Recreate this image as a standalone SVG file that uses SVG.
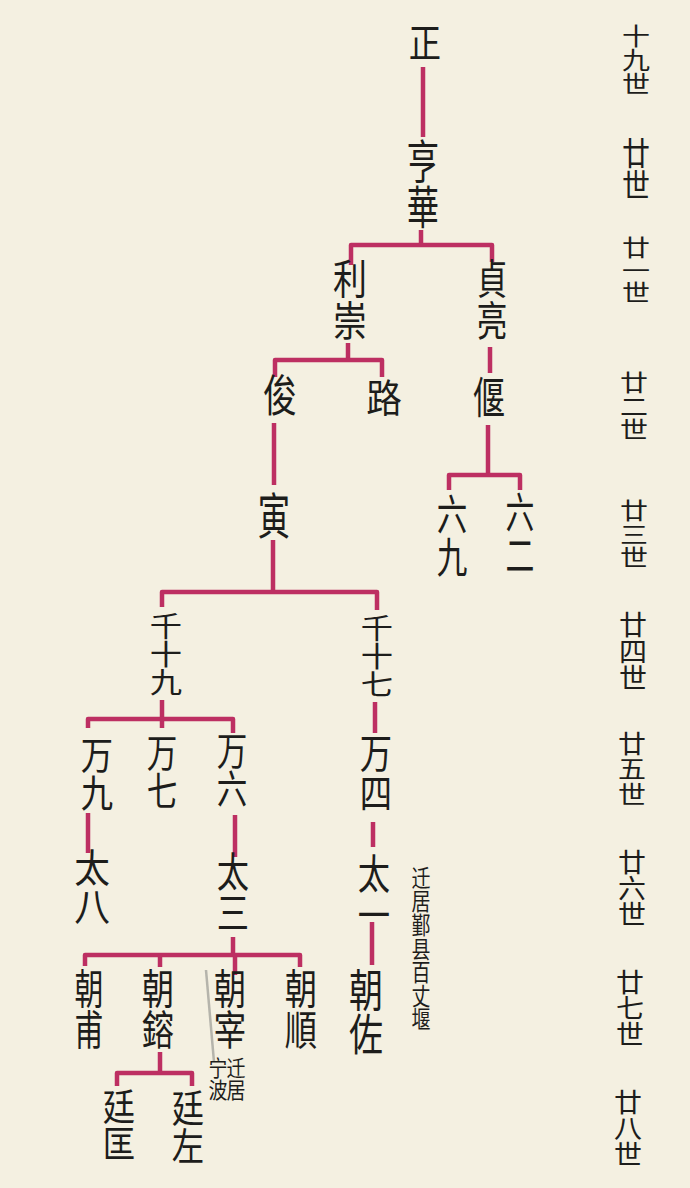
<svg xmlns="http://www.w3.org/2000/svg" width="690" height="1188" viewBox="0 0 690 1188">
<style>
.bg { fill: #f4f0e1; }
.n, .g, .s { font-family: "Noto Sans CJK SC", "Noto Sans CJK TC", sans-serif; writing-mode: vertical-rl; text-anchor: start; fill: #1d1d1b; }
.n { font-size: 34px; }
.g { font-size: 28px; }
.s { font-size: 20px; }
.c { fill: none; stroke: #bd2f62; stroke-width: 4.5; stroke-linejoin: round; stroke-linecap: butt; }
.p { fill: none; stroke: #9a9a94; stroke-width: 2.5; opacity: 0.7; }
</style>
<rect class="bg" x="0" y="0" width="690" height="1188"/>

<g id="connectors">
  <path class="c" d="M423 67 V137"/>
  <path class="c" d="M421 230 V245"/>
  <path class="c" d="M351 265 V245 H492 V262"/>
  <path class="c" d="M348 343 V360"/>
  <path class="c" d="M275 377 V360 H382 V377"/>
  <path class="c" d="M274 423 V485"/>
  <path class="c" d="M273 540 V592"/>
  <path class="c" d="M162 607 V592 H377 V610"/>
  <path class="c" d="M490 347 V373"/>
  <path class="c" d="M488 425 V475"/>
  <path class="c" d="M449 490 V475 H520 V490"/>
  <path class="c" d="M162 700 V728"/>
  <path class="c" d="M88 728 V719 H233 V733"/>
  <path class="c" d="M375 702 V733"/>
  <path class="c" d="M88 813 V853"/>
  <path class="c" d="M235 815 V857"/>
  <path class="c" d="M373 822 V847"/>
  <path class="c" d="M233 937 V955"/>
  <path class="c" d="M85 966 V955 H300 V967"/>
  <path class="c" d="M160 955 V967"/>
  <path class="c" d="M235 955 V975"/>
  <path class="c" d="M372 922 V965"/>
  <path class="c" d="M160 1052 V1073"/>
  <path class="c" d="M117 1086 V1073 H192 V1086"/>
  <path class="p" d="M206 970 L214 1062"/>
</g>

<g id="node-zheng"><text class="n" transform="translate(425 23) scale(0.95 1.15)">正</text></g>
<g id="node-henghua"><text class="n" transform="translate(423 138) scale(0.95 1.35)">亨華</text></g>
<g id="node-lichong"><text class="n" transform="translate(350 258) scale(1.0 1.22)">利崇</text></g>
<g id="node-zhenliang"><text class="n" transform="translate(492 258) scale(0.9 1.22)">貞亮</text></g>
<g id="node-jun"><text class="n" transform="translate(280 373) scale(1.0 1.3)">俊</text></g>
<g id="node-lu"><text class="n" transform="translate(384 378) scale(1.05 1.15)">路</text></g>
<g id="node-yan"><text class="n" transform="translate(489 375) scale(0.95 1.3)">偃</text></g>
<g id="node-yin"><text class="n" transform="translate(274 491) scale(0.95 1.45)">寅</text></g>
<g id="node-liujiu"><text class="n" transform="translate(452 493) scale(0.9 1.25)">六九</text></g>
<g id="node-liuer"><text class="n" transform="translate(520 491) scale(0.85 1.25)">六二</text></g>
<g id="node-qianshijiu"><text class="n" transform="translate(166 612) scale(0.95 0.83)">千十九</text></g>
<g id="node-qianshiqi"><text class="n" transform="translate(377 614) scale(0.95 0.83)">千十七</text></g>
<g id="node-wanjiu"><text class="n" transform="translate(97 735) scale(0.95 1.12)">万九</text></g>
<g id="node-wanqi"><text class="n" transform="translate(162 733) scale(0.9 1.12)">万七</text></g>
<g id="node-wanliu"><text class="n" transform="translate(232 731) scale(0.9 1.12)">万六</text></g>
<g id="node-wansi"><text class="n" transform="translate(376 733) scale(0.95 1.17)">万四</text></g>
<g id="node-taiba"><text class="n" transform="translate(92 848) scale(1.05 1.15)">太八</text></g>
<g id="node-taisan"><text class="n" transform="translate(233 851) scale(0.95 1.2)">太三</text></g>
<g id="node-taiyi"><text class="n" transform="translate(374 853) scale(0.95 1.2)">太一</text></g>
<g id="node-chaofu"><text class="n" transform="translate(89 968) scale(0.85 1.2)">朝甫</text></g>
<g id="node-chaorong"><text class="n" transform="translate(158 968) scale(0.95 1.2)">朝鎔</text></g>
<g id="node-chaozai">
  <text class="n" transform="translate(230 968) scale(0.95 1.2)">朝宰</text>
  <text class="s" transform="translate(236 1057) scale(0.95 1.1)">迁居</text>
  <text class="s" transform="translate(218 1057) scale(0.95 1.1)">宁波</text>
</g>
<g id="node-chaoshun"><text class="n" transform="translate(301 968) scale(0.95 1.2)">朝順</text></g>
<g id="node-chaozuo">
  <text class="n" transform="translate(366 968) scale(1.0 1.3)">朝佐</text>
  <text class="s" transform="translate(421 866) scale(0.95 1.18)">迁居鄞县百丈堰</text>
</g>
<g id="node-tingkuang"><text class="n" transform="translate(119 1088) scale(0.95 1.1)">廷匡</text></g>
<g id="node-tingzuo"><text class="n" transform="translate(188 1088) scale(0.95 1.12)">廷左</text></g>

<g id="generations">
  <text id="gen-19" class="g" transform="translate(636 24) scale(1.0 0.86)">十九世</text>
  <text id="gen-20" class="g" transform="translate(636 137) scale(1.0 1.14)">廿世</text>
  <text id="gen-21" class="g" transform="translate(636 236) scale(1.0 0.81)">廿一世</text>
  <text id="gen-22" class="g" transform="translate(634 371) scale(1.0 0.83)">廿二世</text>
  <text id="gen-23" class="g" transform="translate(634 499) scale(1.0 0.83)">廿三世</text>
  <text id="gen-24" class="g" transform="translate(633 611) scale(1.0 0.96)">廿四世</text>
  <text id="gen-25" class="g" transform="translate(632 731) scale(1.0 0.9)">廿五世</text>
  <text id="gen-26" class="g" transform="translate(632 849) scale(1.0 0.93)">廿六世</text>
  <text id="gen-27" class="g" transform="translate(630 969) scale(1.0 0.93)">廿七世</text>
  <text id="gen-28" class="g" transform="translate(628 1089) scale(1.0 0.93)">廿八世</text>
</g>
</svg>
